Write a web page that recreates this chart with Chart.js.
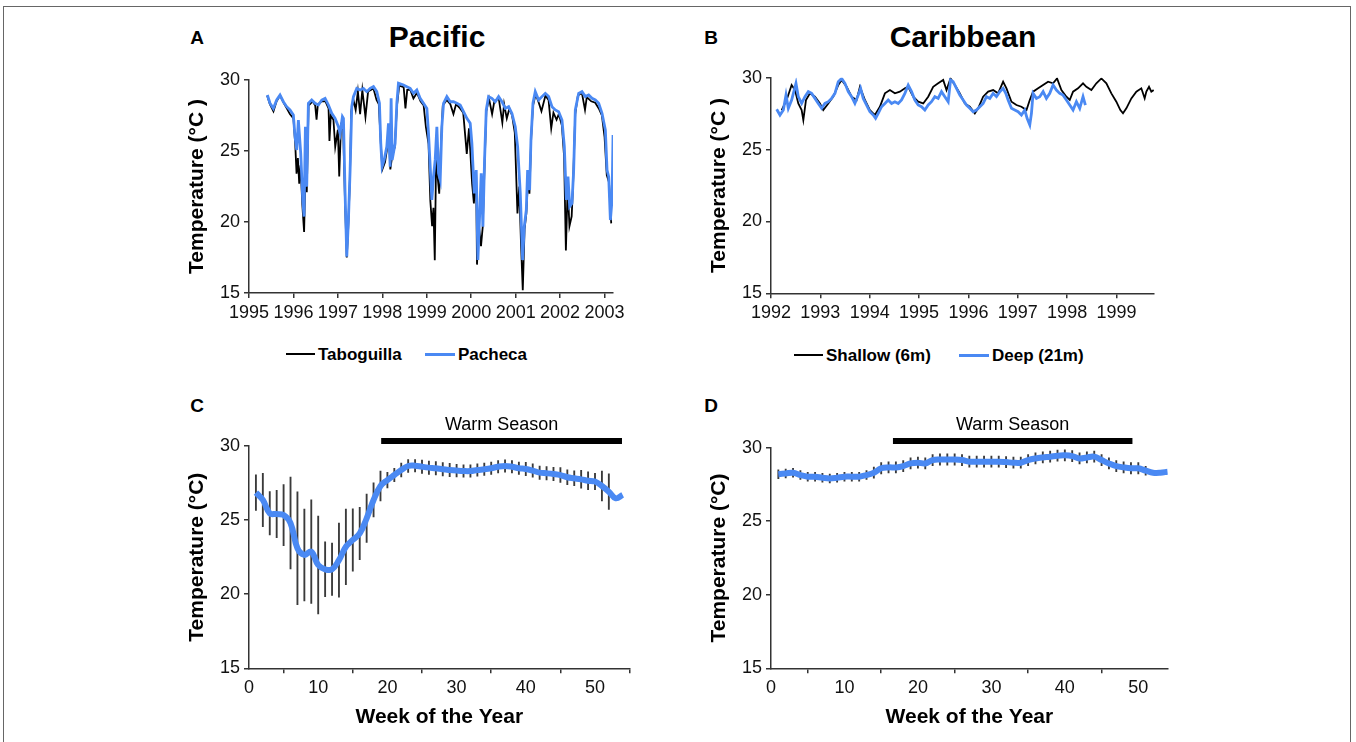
<!DOCTYPE html>
<html><head><meta charset="utf-8">
<script src="https://cdn.jsdelivr.net/npm/chart.js@4.4.1/dist/chart.umd.min.js"></script>
<style>
html,body{margin:0;padding:0;background:#fff;width:1356px;height:742px;overflow:hidden;font-family:"Liberation Sans",Arial,sans-serif;}
.frame{position:absolute;left:3px;top:6px;width:1348px;height:760px;border:1.5px solid #666;box-sizing:border-box;}
canvas{position:absolute;}
.t{position:absolute;color:#000;white-space:nowrap;line-height:1;transform:translate(-50%,-50%);}
.b{font-weight:bold;}
.lg{position:absolute;color:#000;white-space:nowrap;line-height:1;transform:translateY(-50%);font-weight:bold;font-size:17px;}
.ln{position:absolute;}
</style></head><body>
<div class="frame"></div>
<div class="t b" style="left:197px;top:37px;font-size:19px">A</div>
<div class="t b" style="left:437px;top:37px;font-size:30px">Pacific</div>
<div class="t b" style="left:711px;top:37px;font-size:19px">B</div>
<div class="t b" style="left:963px;top:37px;font-size:30px">Caribbean</div>
<div class="t b" style="left:197px;top:405px;font-size:19px">C</div>
<div class="t b" style="left:711px;top:405px;font-size:19px">D</div>

<div class="ln" style="left:286px;top:353px;width:29px;height:1.5px;background:#000"></div>
<div class="lg" style="left:318px;top:354px">Taboguilla</div>
<div class="ln" style="left:425px;top:352.5px;width:30px;height:3px;background:#4a89f3"></div>
<div class="lg" style="left:458px;top:354px">Pacheca</div>
<div class="ln" style="left:794px;top:354px;width:29px;height:1.5px;background:#000"></div>
<div class="lg" style="left:826px;top:355px">Shallow (6m)</div>
<div class="ln" style="left:959px;top:353.5px;width:30px;height:3px;background:#4a89f3"></div>
<div class="lg" style="left:992px;top:355px">Deep (21m)</div>

<canvas id="cA" width="450" height="280" style="left:181px;top:60px"></canvas>
<canvas id="cB" width="470" height="282" style="left:703px;top:58px"></canvas>
<canvas id="cC" width="460" height="334" style="left:181px;top:400px"></canvas>
<canvas id="cD" width="480" height="334" style="left:703px;top:400px"></canvas>
<script>
// ---------- tick labels ----------
const pacYearTicks = [1995,1996,1997,1998,1999,2000,2001,2002,2003];
const carYearTicks = [1992,1993,1994,1995,1996,1997,1998,1999];
const weekTicks = [0,10,20,30,40,50];
const tempTicks = [15,20,25,30];

// ---------- Panel A: Pacific ----------
const pachecaYear = [1995.413,1995.473,1995.548,1995.623,1995.698,1995.773,1995.848,1995.923,1995.998,1996.036,1996.074,1996.111,1996.164,1996.209,1996.239,1996.269,1996.299,1996.336,1996.411,1996.486,1996.562,1996.637,1996.712,1996.787,1996.862,1996.937,1997.012,1997.05,1997.102,1997.125,1997.162,1997.2,1997.237,1997.275,1997.312,1997.35,1997.425,1997.5,1997.575,1997.65,1997.725,1997.8,1997.875,1997.935,1997.965,1997.995,1998.041,1998.101,1998.138,1998.176,1998.198,1998.221,1998.288,1998.326,1998.363,1998.476,1998.551,1998.626,1998.701,1998.776,1998.851,1998.926,1999.002,1999.039,1999.077,1999.114,1999.152,1999.189,1999.227,1999.264,1999.302,1999.339,1999.377,1999.452,1999.527,1999.602,1999.677,1999.752,1999.827,1999.902,1999.977,2000.015,2000.068,2000.113,2000.15,2000.188,2000.225,2000.263,2000.3,2000.338,2000.39,2000.465,2000.541,2000.616,2000.691,2000.766,2000.841,2000.916,2000.991,2001.044,2001.104,2001.156,2001.194,2001.239,2001.269,2001.314,2001.344,2001.389,2001.441,2001.517,2001.592,2001.667,2001.742,2001.817,2001.892,2001.967,2002.042,2002.095,2002.14,2002.177,2002.215,2002.267,2002.305,2002.342,2002.417,2002.492,2002.568,2002.643,2002.718,2002.793,2002.868,2002.943,2003.018,2003.056,2003.093,2003.131,2003.168,2003.191];
const pachecaTemp = [28.94,28.36,28.0,28.59,28.94,28.47,28.12,27.89,27.54,26.0,25.07,27.18,24.84,21.55,20.38,26.71,22.49,28.36,28.59,28.36,28.24,28.59,28.71,28.24,27.65,27.3,26.71,26.24,27.42,27.3,22.02,17.56,20.14,23.66,28.12,28.83,29.41,29.3,29.41,29.18,29.41,29.53,29.18,28.36,25.54,23.9,24.37,25.31,26.95,23.9,28.71,24.37,25.54,28.36,29.77,29.65,29.53,29.41,29.06,29.3,28.71,28.36,28.0,26.24,23.9,21.55,23.19,24.37,26.71,23.43,22.96,26.71,28.36,28.83,28.47,28.47,28.36,28.24,27.77,27.3,26.95,25.54,22.02,23.66,17.32,20.38,23.43,19.67,24.37,27.89,28.83,28.71,28.47,28.83,28.47,28.0,28.12,27.65,26.71,25.31,22.02,17.32,19.67,20.85,23.66,22.25,25.77,28.36,29.18,28.59,28.83,29.06,28.83,28.12,27.89,27.77,27.18,25.31,21.55,23.19,21.08,21.31,23.66,27.89,29.06,29.18,28.83,28.94,28.71,28.59,28.36,27.65,26.48,23.66,23.19,20.14,21.55,26.13];
const taboguillaYear = [1995.41,1995.47,1995.55,1995.62,1995.70,1995.78,1995.85,1995.92,1996.0,1996.04,1996.07,1996.10,1996.13,1996.16,1996.2,1996.24,1996.27,1996.30,1996.34,1996.43,1996.49,1996.52,1996.55,1996.64,1996.72,1996.79,1996.81,1996.84,1996.9,1996.94,1997.0,1997.03,1997.07,1997.12,1997.16,1997.2,1997.23,1997.27,1997.3,1997.35,1997.40,1997.45,1997.5,1997.55,1997.62,1997.68,1997.8,1997.87,1997.92,1997.97,1998.0,1998.06,1998.1,1998.14,1998.18,1998.22,1998.28,1998.33,1998.38,1998.48,1998.52,1998.56,1998.63,1998.7,1998.78,1998.86,1998.93,1998.98,1999.04,1999.08,1999.12,1999.15,1999.18,1999.21,1999.25,1999.28,1999.32,1999.36,1999.45,1999.53,1999.6,1999.66,1999.75,1999.82,1999.9,1999.95,2000.02,2000.06,2000.11,2000.13,2000.17,2000.22,2000.26,2000.3,2000.34,2000.4,2000.47,2000.52,2000.62,2000.7,2000.74,2000.8,2000.86,2000.92,2000.98,2001.04,2001.08,2001.12,2001.16,2001.2,2001.24,2001.28,2001.31,2001.35,2001.39,2001.45,2001.52,2001.58,2001.67,2001.74,2001.8,2001.85,2001.92,2001.97,2002.04,2002.09,2002.13,2002.17,2002.21,2002.26,2002.29,2002.34,2002.4,2002.49,2002.56,2002.6,2002.7,2002.79,2002.87,2002.94,2003.0,2003.05,2003.1,2003.15];
const taboguillaTemp = [28.9,28.3,27.8,28.5,28.9,28.4,28.0,27.6,27.3,25.5,23.4,24.5,22.7,24.0,21.2,19.3,23.5,22.1,28.2,28.5,28.2,27.2,28.3,28.5,28.5,28.0,25.7,27.5,27.2,25.3,26.5,23.2,26.8,26.5,21.5,17.5,19.4,23.0,27.8,28.6,27.9,29.2,27.6,29.3,27.4,29.2,29.4,28.6,28.3,25.3,23.7,24.2,25.0,26.6,23.7,24.6,25.3,28.2,29.6,29.5,28.0,29.3,29.3,28.7,29.1,28.5,28.2,26.7,25.5,21.5,19.7,21.0,17.3,24.5,23.0,22.0,25.5,28.2,28.6,28.3,27.6,28.3,28.0,27.7,24.8,26.6,22.7,21.3,23.5,17.0,19.8,18.3,19.7,24.0,27.8,28.7,27.6,28.5,28.7,27.0,28.3,27.3,28.0,27.5,26.3,20.6,22.5,18.5,15.2,19.5,20.6,23.2,22.0,26.0,28.2,29.0,28.4,27.8,28.9,28.6,26.6,27.7,27.2,27.6,26.8,24.6,18.0,22.5,19.7,20.4,22.5,27.6,28.9,29.1,27.9,28.8,28.5,28.4,28.0,27.5,26.0,23.3,22.8,19.9];

// ---------- Panel B: Caribbean ----------
const deepYear = [1992.115,1992.182,1992.25,1992.304,1992.351,1992.418,1992.506,1992.553,1992.621,1992.688,1992.756,1992.823,1992.891,1992.958,1993.026,1993.093,1993.161,1993.228,1993.296,1993.363,1993.431,1993.498,1993.565,1993.633,1993.7,1993.768,1993.815,1993.869,1993.937,1994.004,1994.072,1994.119,1994.173,1994.24,1994.308,1994.375,1994.443,1994.51,1994.578,1994.645,1994.713,1994.78,1994.848,1994.915,1994.982,1995.05,1995.117,1995.185,1995.252,1995.32,1995.387,1995.455,1995.522,1995.59,1995.637,1995.691,1995.758,1995.826,1995.893,1995.961,1996.028,1996.096,1996.163,1996.231,1996.298,1996.366,1996.433,1996.501,1996.568,1996.636,1996.703,1996.757,1996.804,1996.872,1996.939,1997.007,1997.074,1997.142,1997.189,1997.243,1997.277,1997.31,1997.378,1997.445,1997.513,1997.58,1997.648,1997.715,1997.783,1997.85,1997.918,1997.985,1998.053,1998.12,1998.188,1998.255,1998.322,1998.37];
const deepTemp = [27.8,27.4,27.75,28.79,27.87,28.45,29.61,28.68,28.21,28.68,29.03,28.91,28.56,28.21,27.87,28.21,28.33,28.56,28.91,29.72,29.95,29.61,29.03,28.68,28.21,28.79,29.26,28.56,28.1,27.63,27.4,27.17,27.52,27.98,28.21,28.45,28.21,28.33,28.21,28.45,28.91,29.49,29.03,28.45,28.1,27.98,27.75,28.1,28.33,28.68,28.56,29.03,28.68,28.33,29.84,29.72,29.26,28.79,28.45,28.1,27.87,27.63,27.75,27.98,28.21,28.68,28.56,28.91,28.68,29.03,29.26,28.91,28.45,27.87,27.75,27.63,27.4,27.75,27.17,26.71,27.52,28.91,28.56,28.68,29.03,28.56,28.91,29.49,29.14,28.91,28.79,28.45,28.1,27.75,28.33,27.87,28.68,28.1];
const shallowYear = [1992.216,1992.317,1992.418,1992.486,1992.553,1992.621,1992.655,1992.709,1992.789,1992.891,1992.992,1993.059,1993.161,1993.262,1993.363,1993.431,1993.532,1993.633,1993.734,1993.802,1993.903,1994.004,1994.105,1994.206,1994.308,1994.409,1994.51,1994.611,1994.713,1994.78,1994.881,1994.982,1995.084,1995.185,1995.286,1995.387,1995.489,1995.556,1995.637,1995.725,1995.826,1995.927,1996.028,1996.13,1996.197,1996.298,1996.4,1996.501,1996.602,1996.703,1996.771,1996.872,1996.973,1997.074,1997.176,1997.243,1997.31,1997.412,1997.513,1997.614,1997.715,1997.796,1997.884,1997.985,1998.053,1998.12,1998.221,1998.322,1998.39,1998.491,1998.592,1998.694,1998.795,1998.896,1998.997,1999.078,1999.132,1999.2,1999.301,1999.402,1999.503,1999.571,1999.605,1999.659,1999.706,1999.753];
const shallowTemp = [27.75,28.45,29.49,29.14,28.21,27.75,27.05,28.45,28.91,28.68,28.21,27.75,28.21,28.68,29.49,29.84,29.37,28.68,28.45,29.37,28.45,27.75,27.4,27.98,28.91,29.14,28.91,29.03,29.26,29.37,28.68,28.33,28.21,28.68,29.37,29.61,29.84,29.14,29.95,29.49,28.91,28.21,27.98,27.52,27.87,28.68,29.03,29.14,28.91,29.72,29.26,28.33,28.1,27.98,27.75,28.45,29.03,29.26,29.49,29.72,29.61,29.95,29.14,28.68,28.45,29.03,29.26,29.61,29.37,29.14,29.61,29.95,29.61,28.91,28.33,27.75,27.52,27.87,28.56,29.03,29.26,28.56,29.03,29.37,29.03,29.14];

// ---------- Panels C & D: weekly means ----------
const weeks = [1,2,3,4,5,6,7,8,9,10,11,12,13,14,15,16,17,18,19,20,21,22,23,24,25,26,27,28,29,30,31,32,33,34,35,36,37,38,39,40,41,42,43,44,45,46,47,48,49,50,51,52,53,54];
const pacWeekMean = [26.85,26.36,25.46,25.41,25.34,24.8,23.1,22.65,22.87,21.97,21.68,21.68,22.3,23.2,23.66,24.1,25.12,26.36,27.3,27.7,28.04,28.38,28.65,28.67,28.6,28.54,28.5,28.43,28.38,28.34,28.31,28.31,28.38,28.43,28.5,28.6,28.65,28.6,28.5,28.45,28.34,28.2,28.16,28.11,28.04,27.89,27.82,27.75,27.66,27.6,27.3,26.92,26.47,26.7];
const pacWeekErr = [1.2,1.8,1.46,1.6,2.06,3.1,3.8,3.1,3.5,3.3,1.85,1.77,2.5,2.55,2.1,1.77,1.63,1.15,1.0,0.53,0.45,0.47,0.43,0.42,0.45,0.45,0.45,0.45,0.45,0.42,0.42,0.42,0.42,0.42,0.42,0.42,0.42,0.42,0.42,0.45,0.45,0.45,0.45,0.45,0.5,0.5,0.5,0.6,0.6,0.55,1.0,1.2,0,0];
const carWeekMean = [28.2,28.25,28.3,28.14,28.03,28.03,27.96,27.91,27.96,28.03,28.03,28.03,28.14,28.3,28.6,28.66,28.66,28.75,28.93,28.98,28.93,29.16,29.2,29.2,29.2,29.16,29.05,29.05,29.05,29.05,29.05,29.02,28.98,28.98,29.16,29.27,29.34,29.39,29.46,29.48,29.43,29.27,29.34,29.39,29.16,28.93,28.75,28.66,28.6,28.6,28.44,28.3,28.3,28.37];
const carWeekErr = [0.3,0.3,0.3,0.3,0.3,0.3,0.3,0.3,0.3,0.3,0.3,0.3,0.3,0.38,0.38,0.38,0.38,0.38,0.38,0.38,0.38,0.38,0.38,0.38,0.38,0.38,0.38,0.38,0.38,0.38,0.38,0.38,0.38,0.38,0.38,0.38,0.38,0.38,0.38,0.38,0.38,0.38,0.38,0.38,0.38,0.38,0.38,0.38,0.38,0.38,0.3,0,0,0];
const warmPac = [19.1, 53.9];
const warmCar = [16.6, 49.2];

// ---------- helpers ----------
const FF = '"Liberation Sans", Arial, sans-serif';
const BLUE = '#4a89f3';
const AX = '#333';
const zip = (xs, ys) => xs.map((x, i) => ({x: x, y: ys[i]}));
const errData = (m, e) => weeks.map((w, i) => ({x: w, y: [m[i] - e[i], m[i] + e[i]], e: e[i]})).filter(d => d.e > 0);

function yScale(title, w) {
  return {
    type: 'linear', min: 15, max: 30,
    afterBuildTicks: s => { s.ticks = tempTicks.map(v => ({value: v})); },
    ticks: {font: {family: FF, size: 18}, color: '#111', padding: 4},
    grid: {drawOnChartArea: false, drawTicks: true, tickLength: 5, color: AX, lineWidth: 1.5},
    border: {display: true, color: AX, width: 1.5},
    title: {display: true, text: title, color: '#000', font: {family: FF, size: 21, weight: 'bold'}, padding: {top: 4, bottom: 4}},
    afterFit: s => { s.width = w; }
  };
}
function xScale(min, max, tickArr, h, title) {
  return {
    type: 'linear', min: min, max: max, offset: false,
    afterBuildTicks: s => { s.ticks = tickArr.map(v => ({value: v})); },
    ticks: {font: {family: FF, size: 18}, color: '#111', padding: 4, maxRotation: 0, autoSkip: false, callback: v => String(v)},
    grid: {drawOnChartArea: false, drawTicks: true, tickLength: 5, color: AX, lineWidth: 1.5},
    border: {display: true, color: AX, width: 1.5},
    title: {display: !!title, text: title || '', color: '#000', font: {family: FF, size: 21, weight: 'bold'}, padding: {top: 4, bottom: 4}},
    afterFit: s => { s.height = h; }
  };
}
const baseOpts = (pad, xs, ys) => ({
  responsive: false, animation: false, devicePixelRatio: 1,
  layout: {padding: pad},
  plugins: {legend: {display: false}, tooltip: {enabled: false}, title: {display: false}},
  scales: {x: xs, y: ys}
});

function warmPlugin(range, level) {
  return {
    id: 'warmLabel',
    afterDatasetsDraw(chart) {
      const xs = chart.scales.x, ys = chart.scales.y, ctx = chart.ctx;
      ctx.save();
      ctx.font = '18px ' + FF;
      ctx.fillStyle = '#000';
      ctx.textAlign = 'center';
      ctx.textBaseline = 'middle';
      ctx.fillText('Warm Season', (xs.getPixelForValue(range[0]) + xs.getPixelForValue(range[1])) / 2, ys.getPixelForValue(level) - 16);
      ctx.restore();
    }
  };
}

// Panel A
new Chart(document.getElementById('cA'), {
  type: 'line',
  data: {datasets: [
    {label: 'Pacheca', data: zip(pachecaYear, pachecaTemp), borderColor: BLUE, borderWidth: 2.8, pointRadius: 0, tension: 0},
    {label: 'Taboguilla', data: zip(taboguillaYear, taboguillaTemp), borderColor: '#000', borderWidth: 1.8, pointRadius: 0, tension: 0}
  ]},
  options: baseOpts({top: 20, right: 18, left: 0, bottom: 0}, xScale(1995, 2003.19, pacYearTicks, 47), yScale('Temperature (°C )', 68))
});

// Panel B
new Chart(document.getElementById('cB'), {
  type: 'line',
  data: {datasets: [
    {label: 'Deep (21m)', data: zip(deepYear, deepTemp), borderColor: BLUE, borderWidth: 2.8, pointRadius: 0, tension: 0},
    {label: 'Shallow (6m)', data: zip(shallowYear, shallowTemp), borderColor: '#000', borderWidth: 1.8, pointRadius: 0, tension: 0}
  ]},
  options: baseOpts({top: 19.7, right: 19, left: 0, bottom: 0}, xScale(1992, 1999.76, carYearTicks, 46.7), yScale('Temperature (°C )', 68))
});

// Panel C
const warmLevelC = 30.34;
new Chart(document.getElementById('cC'), {
  type: 'line',
  data: {datasets: [
    {label: 'Mean', data: zip(weeks, pacWeekMean), borderColor: BLUE, borderWidth: 6, pointRadius: 0, tension: 0.4},
    {type: 'bar', label: 'SD', data: errData(pacWeekMean, pacWeekErr), backgroundColor: '#3a3a3a', barThickness: 1.2, grouped: false},
    {label: 'Warm', data: [{x: warmPac[0], y: warmLevelC}, {x: warmPac[1], y: warmLevelC}], borderColor: '#000', borderWidth: 6, pointRadius: 0, clip: false, borderCapStyle: 'butt'}
  ]},
  options: baseOpts({top: 46, right: 11.4, left: 0, bottom: 0}, xScale(0, 55, weekTicks, 65.7, 'Week of the Year'), yScale('Temperature (°C)', 68)),
  plugins: [warmPlugin(warmPac, warmLevelC)]
});

// Panel D
const warmLevelD = 30.46;
new Chart(document.getElementById('cD'), {
  type: 'line',
  data: {datasets: [
    {label: 'Mean', data: zip(weeks, carWeekMean), borderColor: BLUE, borderWidth: 6, pointRadius: 0, tension: 0.4},
    {type: 'bar', label: 'SD', data: errData(carWeekMean, carWeekErr), backgroundColor: '#3a3a3a', barThickness: 1.2, grouped: false},
    {label: 'Warm', data: [{x: warmCar[0], y: warmLevelD}, {x: warmCar[1], y: warmLevelD}], borderColor: '#000', borderWidth: 6, pointRadius: 0, clip: false, borderCapStyle: 'butt'}
  ]},
  options: baseOpts({top: 47.7, right: 15.3, left: 0, bottom: 0}, xScale(0, 54, weekTicks, 65.7, 'Week of the Year'), yScale('Temperature (°C)', 68)),
  plugins: [warmPlugin(warmCar, warmLevelD)]
});
</script>
</body></html>
